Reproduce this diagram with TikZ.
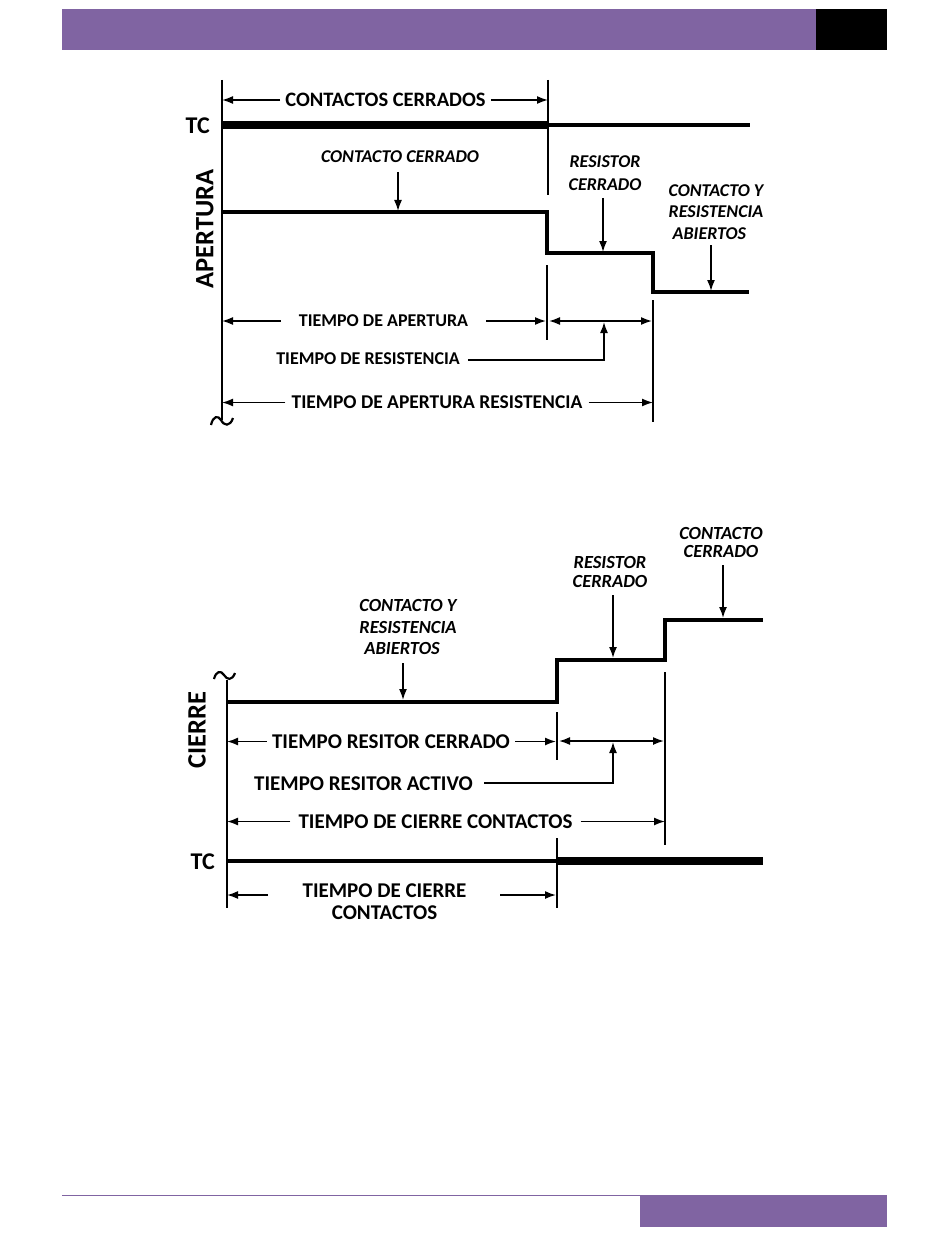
\documentclass[tikz,border=0pt]{standalone}
\usepackage{fontspec}
\setmainfont{Carlito}
\usetikzlibrary{arrows.meta,calc}
\definecolor{hdr}{HTML}{8064A2}
\tikzset{
 lbl/.style={font=\bfseries\fontsize{21}{24}\selectfont, inner ysep=4pt, inner xsep=5pt},
 lblA/.style={font=\bfseries\fontsize{18}{20}\selectfont, inner ysep=4pt, inner xsep=5pt},
 ital/.style={font=\bfseries\itshape\fontsize{18}{22}\selectfont, align=center, inner sep=1pt},
 big/.style={font=\bfseries\fontsize{26.5}{28}\selectfont, inner sep=0pt},
 sig/.style={line width=3.5pt, line join=miter},
 tcthick/.style={line width=8pt},
 tickln/.style={line width=2.5pt},
 axisln/.style={line width=2.5pt},
 dim/.style={line width=1.6pt, -{Latex[length=11pt,width=8pt]}},
 dimboth/.style={line width=1.6pt, {Latex[length=11pt,width=8pt]}-{Latex[length=11pt,width=8pt]}},
}
\begin{document}
\begin{tikzpicture}[x=1pt,y=-1pt]
\useasboundingbox (0,0) rectangle (950,1260);
% header / footer
\fill[hdr] (62,9) rectangle (816,50);
\fill[black] (816,9) rectangle (887,50);
\draw[hdr, line width=1pt] (62,1195) -- (640,1195);
\fill[hdr] (640,1195) rectangle (887,1227);

% ================= TOP: APERTURA =================
\coordinate (a1t) at (222,80);
\coordinate (a1b) at (222,420);
\draw[axisln] (a1t) -- (a1b);
\draw[line width=2.2pt] (211,425) .. controls (213,416) and (218,415) .. (221,420) .. controls (224,426) and (230,427) .. (233,418);
\node[big, anchor=east, font=\bfseries\fontsize{24}{26}\selectfont] (tc1) at (210,126) {TC};
\node[big, rotate=90] (apert) at (205,229) {APERTURA};
\coordinate (tc1a) at (222,125);
\coordinate (tc1b) at (548,125);
\coordinate (tc1c) at (750,125);
\draw[tcthick] (tc1a) -- (tc1b);
\draw[sig] (tc1b) -- (tc1c);
\coordinate (k1t) at (548,80);
\coordinate (k1b) at (548,195);
\draw[tickln] (k1t) -- (k1b);
\node[lbl, font=\bfseries\fontsize{20.5}{24}\selectfont] (cc) at (385.5,100) {CONTACTOS CERRADOS};
\draw[dim] (cc.west) -- (cc.west -| a1t);
\draw[dim] (cc.east) -- (cc.east -| k1t);

\coordinate (s1) at (222,212);
\coordinate (s2) at (547,212);
\coordinate (s3) at (547,253);
\coordinate (s4) at (653,253);
\coordinate (s5) at (653,292);
\coordinate (s6) at (749,292);
\draw[sig] (s1) -- (s2) -- (s3) -- (s4) -- (s5) -- (s6);

\node[ital] (ccl) at (400,157) {CONTACTO CERRADO};
\coordinate (ccla) at (398,211);
\draw[dim] (398,172) -- (ccla);
\node[ital, font=\bfseries\itshape\fontsize{18}{23}\selectfont] (rc) at (605,173.5) {RESISTOR\\CERRADO};
\coordinate (rca) at (603,252);
\draw[dim] (603,198) -- (rca);
\node[ital, align=left, font=\bfseries\itshape\fontsize{18}{21.7}\selectfont] (cra) at (716,212) {CONTACTO Y\\RESISTENCIA\\\hspace*{4pt}ABIERTOS};
\coordinate (craa) at (711,291);
\draw[dim] (711,245) -- (craa);

\coordinate (k2t) at (547,265);
\coordinate (k2b) at (547,340);
\draw[tickln] (k2t) -- (k2b);
\coordinate (k3t) at (653,300);
\coordinate (k3b) at (653,422);
\draw[tickln] (k3t) -- (k3b);

\node[lblA, inner xsep=18pt] (tda) at (383.5,321) {TIEMPO DE APERTURA};
\draw[dim] (tda.west) -- (tda.west -| a1t);
\draw[dim] (tda.east) -- ($(tda.east -| k2t)+(-1,0)$);
\coordinate (tr1) at (549,321);
\coordinate (tr2) at (652,321);
\draw[dimboth] (tr1) -- (tr2);
\node[lblA, inner xsep=8pt] (tdr) at (368,359) {TIEMPO DE RESISTENCIA};
\coordinate (tre) at (604,360);
\coordinate (trh) at (604,322);
\draw[dim] (tdr.east |- tre) -- (tre) -- (trh);
\node[lbl, font=\bfseries\fontsize{19.5}{22}\selectfont, inner xsep=6pt] (tdar) at (437,402.5) {TIEMPO DE APERTURA RESISTENCIA};
\draw[dim] (tdar.west) -- (tdar.west -| a1t);
\draw[dim] (tdar.east) -- (tdar.east -| k3t);

% ================= BOTTOM: CIERRE =================
\coordinate (a2t) at (227,680);
\coordinate (a2b) at (227,908);
\draw[axisln] (a2t) -- (a2b);
\draw[line width=2.2pt] (214,679) .. controls (216,671) and (221,670) .. (224,675) .. controls (227,680) and (232,681) .. (235,673);
\node[big, rotate=90] (cierre) at (197,730) {CIERRE};
\node[big, anchor=east, font=\bfseries\fontsize{24}{26}\selectfont] (tc2) at (215,862) {TC};

\coordinate (u1) at (227,702);
\coordinate (u2) at (557,702);
\coordinate (u3) at (557,660);
\coordinate (u4) at (665,660);
\coordinate (u5) at (665,620);
\coordinate (u6) at (763,620);
\draw[sig] (u1) -- (u2) -- (u3) -- (u4) -- (u5) -- (u6);

\node[ital, align=left, font=\bfseries\itshape\fontsize{18.5}{21.7}\selectfont] (cra2) at (408,627) {CONTACTO Y\\RESISTENCIA\\\hspace*{5pt}ABIERTOS};
\coordinate (cra2a) at (403,700);
\draw[dim] (403,663) -- (cra2a);
\node[ital, font=\bfseries\itshape\fontsize{18.5}{18.3}\selectfont] (rc2) at (610,572) {RESISTOR\\CERRADO};
\coordinate (rc2a) at (613,658);
\draw[dim] (613,595) -- (rc2a);
\node[ital, font=\bfseries\itshape\fontsize{18.5}{18}\selectfont] (cc2) at (721,542) {CONTACTO\\CERRADO};
\coordinate (cc2a) at (723,618);
\draw[dim] (723,565) -- (cc2a);

\coordinate (m1t) at (557,712);
\coordinate (m1b) at (557,760);
\draw[tickln] (m1t) -- (m1b);
\coordinate (m2t) at (557,838);
\coordinate (m2b) at (557,908);
\draw[tickln] (m2t) -- (m2b);
\coordinate (m3t) at (665,672);
\coordinate (m3b) at (665,845);
\draw[tickln] (m3t) -- (m3b);

\coordinate (t2a) at (227,861);
\coordinate (t2b) at (557,861);
\coordinate (t2c) at (763,861);
\draw[sig] (t2a) -- (t2b);
\draw[tcthick] (t2b) -- (t2c);

\node[lbl] (trc) at (391,741.5) {TIEMPO RESITOR CERRADO};
\draw[dim] (trc.west) -- (trc.west -| a2t);
\draw[dim] (trc.east) -- ($(trc.east -| m1t)+(-1,0)$);
\coordinate (ra1) at (559,741);
\coordinate (ra2) at (664,741);
\draw[dimboth] (ra1) -- (ra2);
\node[lbl, inner xsep=11pt] (tra) at (363.5,783.5) {TIEMPO RESITOR ACTIVO};
\coordinate (rae) at (613,783);
\coordinate (rah) at (613,742);
\draw[dim] (tra.east |- rae) -- (rae) -- (rah);
\node[lbl, inner xsep=8pt] (tcc) at (435.5,821.5) {TIEMPO DE CIERRE CONTACTOS};
\draw[dim] (tcc.west) -- (tcc.west -| a2t);
\draw[dim] (tcc.east) -- (tcc.east -| m3t);

\node[lbl, align=center, inner xsep=34pt, inner ysep=0pt, font=\bfseries\fontsize{21}{22}\selectfont] (tcc2) at (384.5,902) {TIEMPO DE CIERRE\\CONTACTOS};
\coordinate (tcl) at (268,895);
\coordinate (tcr) at (500,895);
\draw[dim] (tcl) -- (tcl -| a2t);
\draw[dim] (tcr) -- ($(tcr -| m2t)+(-1,0)$);
\end{tikzpicture}
\end{document}
